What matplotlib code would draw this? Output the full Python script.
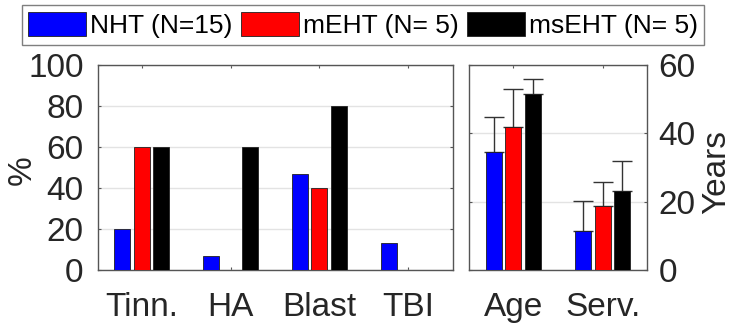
import matplotlib
matplotlib.use("Agg")
import matplotlib.pyplot as plt
import numpy as np
from matplotlib.patches import Patch

plt.rcParams['font.family'] = ['Liberation Sans', 'DejaVu Sans']

# ---- data ----
groups = ["NHT (N=15)", "mEHT (N= 5)", "msEHT (N= 5)"]
colors = ["#0000ff", "#ff0000", "#000000"]

pct_categories = ["Tinn.", "HA", "Blast", "TBI"]
pct_nht = [20.0, 6.67, 46.67, 13.33]
pct_meht = [60.0, 0.0, 40.0, 0.0]
pct_mseht = [60.0, 60.0, 80.0, 0.0]

yr_categories = ["Age", "Serv."]
yr_nht = [34.4, 11.5]
yr_meht = [41.8, 18.6]
yr_mseht = [51.5, 23.2]
yr_nht_err = [10.5, 8.8]
yr_meht_err = [11.3, 7.3]
yr_mseht_err = [4.3, 8.6]

pct_ticks = [0, 20, 40, 60, 80, 100]
yr_ticks = [0, 20, 40, 60]

W, H = 733, 327
fig = plt.figure(figsize=(W / 100, H / 100), dpi=100)

def fr(x0, x1, y0, y1):
    return [x0 / W, 1 - y1 / H, (x1 - x0) / W, (y1 - y0) / H]

ax1 = fig.add_axes(fr(97.5, 452.5, 65, 270))
ax2 = fig.add_axes(fr(468.7, 647.3, 65, 270))

spine_c = "#555555"
text_c = "#262626"
grid_c = "#e3e3e3"
offs = [-0.22, 0.0, 0.22]
bw = 0.18

def style(ax):
    for s in ax.spines.values():
        s.set_color(spine_c)
        s.set_linewidth(1.0)
    ax.set_axisbelow(True)
    ax.yaxis.grid(True, color=grid_c, linewidth=1.0)
    ax.tick_params(axis='both', direction='in', length=2.5, width=0.8,
                   color=spine_c, labelcolor=text_c, labelsize=24)
    ax.tick_params(axis='x', top=True, pad=16)

# left panel
x1 = np.arange(1, len(pct_categories) + 1)
for vals, off, c in zip([pct_nht, pct_meht, pct_mseht], offs, colors):
    ax1.bar(x1 + off, vals, width=bw, color=c, edgecolor="#202020", linewidth=0.6, zorder=3)
ax1.set_xlim(0.5, 4.5)
ax1.set_ylim(0, 100)
ax1.set_xticks(x1)
ax1.set_xticklabels(pct_categories)
ax1.set_yticks(pct_ticks)
style(ax1)
ax1.tick_params(axis='y', left=True, right=True, pad=10)

# right panel
x2 = np.arange(1, len(yr_categories) + 1)
for vals, errs, off, c in zip([yr_nht, yr_meht, yr_mseht],
                              [yr_nht_err, yr_meht_err, yr_mseht_err], offs, colors):
    ax2.bar(x2 + off, vals, width=bw, color=c, edgecolor="#202020", linewidth=0.6, zorder=3)
    ax2.errorbar(x2 + off, vals, yerr=[np.zeros(len(errs)), errs], fmt='none',
                 ecolor="#333333", elinewidth=1.0, capsize=7, capthick=1.0, zorder=2)
ax2.set_xlim(0.5, 2.5)
ax2.set_ylim(0, 60)
ax2.set_xticks(x2)
ax2.set_xticklabels(yr_categories)
ax2.set_yticks(yr_ticks)
style(ax2)
ax2.yaxis.tick_right()
ax2.tick_params(axis='y', left=True, right=True, labelleft=False, labelright=True, pad=8)

# axis titles
fig.text(22 / W, 1 - 170 / H, "%", rotation=90, ha='center', va='center',
         fontsize=24, color=text_c)
fig.text(717 / W, 1 - 172 / H, "Years", rotation=90, ha='center', va='center',
         fontsize=24, color=text_c)

handles = [Patch(facecolor=c, edgecolor="#202020", linewidth=0.6) for c in colors]
leg = fig.legend(handles, groups, loc='center', bbox_to_anchor=(363 / W, 1 - 25 / H),
                 ncol=3, fontsize=19, frameon=True, fancybox=False, framealpha=1,
                 edgecolor="#7f7f7f", handlelength=2.2, handleheight=1.0,
                 handletextpad=0.16, columnspacing=0.3, borderpad=0.25,
                 borderaxespad=0)
leg.get_frame().set_linewidth(1.0)
for t in leg.get_texts():
    t.set_color("#000000")

fig.savefig("out.png", dpi=100)
